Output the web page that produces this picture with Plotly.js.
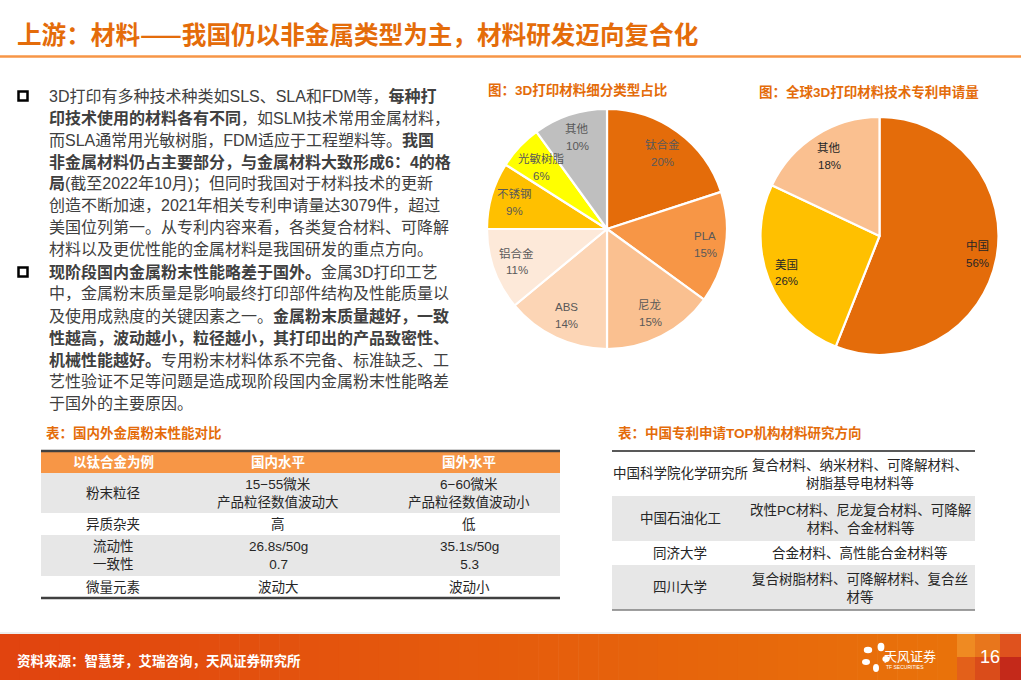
<!DOCTYPE html>
<html><head><meta charset="utf-8">
<script src="https://cdn.plot.ly/plotly-3.0.1.min.js"></script>
<style>html,body{margin:0;padding:0;background:#fff;overflow:hidden}#chart{width:1021px;height:680px}</style>
</head><body><div id="chart"></div>
<script>
const W = 1021, H = 680;
const FONT = '"Liberation Sans", Arial, "Noto Sans CJK SC", sans-serif';
const CJK = '"Noto Sans CJK SC", "Liberation Sans", sans-serif';
const ORANGE = '#E46C0A';

// ---------- data ----------
const slideTitle = '上游：材料——我国仍以非金属类型为主，材料研发迈向复合化';
const bullet1Lines = [
  '3D打印有多种技术种类如SLS、SLA和FDM等，<b>每种打</b>',
  '<b>印技术使用的材料各有不同</b>，如SLM技术常用金属材料，',
  '而SLA通常用光敏树脂，FDM适应于工程塑料等。<b>我国</b>',
  '<b>非金属材料仍占主要部分，与金属材料大致形成6：4的格</b>',
  '<b>局</b>(截至2022年10月)；但同时我国对于材料技术的更新',
  '创造不断加速，2021年相关专利申请量达3079件，超过',
  '美国位列第一。从专利内容来看，各类复合材料、可降解',
  '材料以及更优性能的金属材料是我国研发的重点方向。'
];
const bullet2Lines = [
  '<b>现阶段国内金属粉末性能略差于国外。</b>金属3D打印工艺',
  '中，金属粉末质量是影响最终打印部件结构及性能质量以',
  '及使用成熟度的关键因素之一。<b>金属粉末质量越好，一致</b>',
  '<b>性越高，波动越小，粒径越小，其打印出的产品致密性、</b>',
  '<b>机械性能越好。</b>专用粉末材料体系不完备、标准缺乏、工',
  '艺性验证不足等问题是造成现阶段国内金属粉末性能略差',
  '于国外的主要原因。'
];

const pie1Title = '图：3D打印材料细分类型占比';
const pie1Labels = ['钛合金', 'PLA', '尼龙', 'ABS', '铝合金', '不锈钢', '光敏树脂', '其他'];
const pie1Values = [20, 15, 15, 14, 11, 9, 6, 10];
const pie1Colors = ['#E46C0A', '#F79646', '#FAC090', '#FCD5B5', '#FDE9D9', '#FFC000', '#FFFF00', '#BFBFBF'];

const pie2Title = '图：全球3D打印材料技术专利申请量';
const pie2Labels = ['中国', '美国', '其他'];
const pie2Values = [56, 26, 18];
const pie2Colors = ['#E46C0A', '#FFC000', '#FAC090'];

const table1Title = '表：国内外金属粉末性能对比';
const table1Header = ['以钛合金为例', '国内水平', '国外水平'];
const table1Items = ['粉末粒径', '异质杂夹', '流动性<br>一致性', '微量元素'];
const table1Domestic = ['15−55微米<br>产品粒径数值波动大', '高', '26.8s/50g<br>0.7', '波动大'];
const table1Foreign = ['6−60微米<br>产品粒径数值波动小', '低', '35.1s/50g<br>5.3', '波动小'];

const table2Title = '表：中国专利申请TOP机构材料研究方向';
const table2Orgs = ['中国科学院化学研究所', '中国石油化工', '同济大学', '四川大学'];
const table2Dirs = [
  '复合材料、纳米材料、可降解材料、<br>树脂基导电材料等',
  '改性PC材料、尼龙复合材料、可降解<br>材料、合金材料等',
  '合金材料、高性能合金材料等',
  '复合树脂材料、可降解材料、复合丝<br>材等'
];

const footerSource = '资料来源：智慧芽，艾瑞咨询，天风证券研究所';
const logoText = '天风证券';
const logoSub = 'TF SECURITIES';
const pageNumber = '16';

// ---------- helpers ----------
const px = x => x / W, py = y => 1 - y / H;
function ann(text, x, y, o) {
  o = o || {};
  return {
    text: text, x: px(x), y: py(y), xref: 'paper', yref: 'paper', showarrow: false,
    xanchor: o.xanchor || 'center', yanchor: 'middle', align: o.align || 'center',
    font: {family: o.family || FONT, size: o.size || 13.5, color: o.color || '#262626'}
  };
}
function rect(x0, y0, x1, y1, fill, line) {
  return {type: 'rect', xref: 'paper', yref: 'paper', x0: px(x0), x1: px(x1), y0: py(y1), y1: py(y0),
    fillcolor: fill || 'rgba(0,0,0,0)', line: line || {width: 0}, layer: 'below'};
}
function hline(x0, x1, y, color, w) {
  return {type: 'line', xref: 'paper', yref: 'paper', x0: px(x0), x1: px(x1), y0: py(y), y1: py(y),
    line: {color: color, width: w}, layer: 'above'};
}
function hexToRgb(h) { return [1, 3, 5].map(i => parseInt(h.substr(i, 2), 16)); }
function mix(a, b, t) {
  const A = hexToRgb(a), B = hexToRgb(b);
  return 'rgb(' + A.map((v, i) => Math.round(v + (B[i] - v) * t)).join(',') + ')';
}

const shapes = [], annotations = [];

// ---------- title ----------
annotations.push(ann('<b>' + slideTitle + '</b>', 15, 33, {xanchor: 'left', size: 24.6, color: ORANGE, family: CJK}));
shapes.push(hline(0, W, 56.5, '#F79646', 2.5));

// ---------- bullets ----------
const bulletX = 47;
[[bullet1Lines, 96], [bullet2Lines, 272]].forEach(([lines, y0]) => {
  shapes.push({type: 'rect', xref: 'paper', yref: 'paper', x0: px(18.5), x1: px(27.5), y0: py(y0 + 4.5), y1: py(y0 - 4.5),
    line: {color: '#000', width: 2.5}, fillcolor: 'rgba(0,0,0,0)'});
  lines.forEach((t, i) => annotations.push(ann(t, bulletX, y0 + i * 21.9, {xanchor: 'left', size: 16, color: '#404040'})));
});

// ---------- pies ----------
const pie1 = {cx: 607, cy: 229, r: 120};
const pie2 = {cx: 879.5, cy: 236, r: 119};
function domainOf(p) { return {x: [px(p.cx - p.r), px(p.cx + p.r)], y: [py(p.cy + p.r), py(p.cy - p.r)]}; }
function pieTrace(labels, values, colors, p) {
  return {type: 'pie', labels: labels, values: values, sort: false, direction: 'clockwise', rotation: 0,
    marker: {colors: colors, line: {color: '#FFFFFF', width: 2.2}}, textinfo: 'none', hoverinfo: 'skip',
    domain: domainOf(p), showlegend: false, automargin: false};
}
function pieLabels(labels, values, p, frac, color) {
  const total = values.reduce((a, b) => a + b, 0);
  let cum = 0;
  labels.forEach((lab, i) => {
    const mid = (cum + values[i] / 2) / total * 2 * Math.PI;
    cum += values[i];
    const f = Array.isArray(frac) ? frac[i] : frac;
    const x = p.cx + f * p.r * Math.sin(mid), y = p.cy - f * p.r * Math.cos(mid);
    annotations.push(ann(lab, x, y - 8.5, {size: 11.5, color: color}));
    annotations.push(ann(Math.round(values[i] / total * 100) + '%', x, y + 8.5, {size: 11.5, color: color}));
  });
}
annotations.push(ann('<b>' + pie1Title + '</b>', 486, 90, {xanchor: 'left', size: 13.5, color: ORANGE}));
annotations.push(ann('<b>' + pie2Title + '</b>', 757, 92, {xanchor: 'left', size: 13.5, color: ORANGE}));
pieLabels(pie1Labels, pie1Values, pie1, [0.78, 0.83, 0.79, 0.8, 0.8, 0.8, 0.75, 0.8], '#595959');
pieLabels(pie2Labels, pie2Values, pie2, [0.84, 0.84, 0.79], '#262626');

// ---------- table 1 ----------
const t1 = {x0: 41, x1: 560, top: 451, rows: [473, 513, 535, 576, 598], cols: [113, 278, 469]};
annotations.push(ann('<b>' + table1Title + '</b>', 44, 433, {xanchor: 'left', size: 13.5, color: ORANGE}));
shapes.push(rect(t1.x0, t1.top, t1.x1, t1.rows[0], '#F79646'));
for (let i = 0; i < table1Items.length; i++) {
  if (i % 2 === 0) shapes.push(rect(t1.x0, t1.rows[i], t1.x1, t1.rows[i + 1], '#E7E7E7'));
  const yc = (t1.rows[i] + t1.rows[i + 1]) / 2;
  annotations.push(ann(table1Items[i], t1.cols[0], yc));
  annotations.push(ann(table1Domestic[i], t1.cols[1], yc));
  annotations.push(ann(table1Foreign[i], t1.cols[2], yc));
}
table1Header.forEach((h, j) => annotations.push(ann('<b>' + h + '</b>', t1.cols[j], (t1.top + t1.rows[0]) / 2, {color: '#FFFFFF'})));
shapes.push(hline(t1.x0, t1.x1, t1.top, '#404040', 2.5));
shapes.push(hline(t1.x0, t1.x1, t1.rows[4], '#404040', 2.5));

// ---------- table 2 ----------
const t2 = {x0: 612, x1: 975, rows: [451, 496, 541, 565, 610], cols: [680, 860]};
annotations.push(ann('<b>' + table2Title + '</b>', 616, 433, {xanchor: 'left', size: 13.5, color: ORANGE}));
for (let i = 0; i < table2Orgs.length; i++) {
  if (i % 2 === 1) shapes.push(rect(t2.x0, t2.rows[i], t2.x1, t2.rows[i + 1], '#E7E7E7'));
  const yc = (t2.rows[i] + t2.rows[i + 1]) / 2;
  annotations.push(ann(table2Orgs[i], t2.cols[0], yc));
  annotations.push(ann(table2Dirs[i], t2.cols[1], yc));
}
shapes.push(hline(t2.x0, t2.x1, t2.rows[0], '#595959', 2));
shapes.push(hline(t2.x0, t2.x1, t2.rows[4], '#7F7F7F', 1.5));

// ---------- footer ----------
const fTop = 634;
shapes.push(hline(0, W, fTop - 1, '#E8E8E8', 1.5));
const strips = 48, stripEnd = 957;
for (let k = 0; k < strips; k++) {
  const xa = stripEnd * k / strips, xb = stripEnd * (k + 1) / strips + 0.6;
  shapes.push(rect(xa, fTop, xb, H, mix('#E1440F', '#E9720A', k / (strips - 1))));
}
[[957, 975, '#EF8A22', '#E3601A'], [975, 1000, '#E8761C', '#DA4C1A'], [1000, 1021, '#DF521E', '#C4291A']].forEach(c => {
  shapes.push(rect(c[0], fTop, c[1], 657, c[2]));
  shapes.push(rect(c[0], 657, c[1], H, c[3]));
});
// logo petals
[[868, 650, 4.2, 3.2], [881, 647, 3.4, 4.2], [866, 662, 4, 3], [876, 668, 3, 4], [886, 659, 3.6, 3]].forEach(e => {
  shapes.push({type: 'circle', xref: 'paper', yref: 'paper', x0: px(e[0] - e[2]), x1: px(e[0] + e[2]),
    y0: py(e[1] + e[3]), y1: py(e[1] - e[3]), fillcolor: '#FFFFFF', line: {width: 0}, layer: 'above'});
});
annotations.push(ann('<b>' + footerSource + '</b>', 15, 661, {xanchor: 'left', size: 13.5, color: '#FFFFFF'}));
annotations.push(ann(logoText, 910, 656, {size: 13, color: '#FFFFFF'}));
annotations.push(ann(logoSub, 905, 667, {size: 5, color: '#FFFFFF'}));
annotations.push(ann(pageNumber, 990, 657, {size: 18, color: '#FFFFFF'}));

const data = [pieTrace(pie1Labels, pie1Values, pie1Colors, pie1), pieTrace(pie2Labels, pie2Values, pie2Colors, pie2)];
const layout = {
  width: W, height: H, margin: {l: 0, r: 0, t: 0, b: 0, pad: 0},
  paper_bgcolor: '#FFFFFF', plot_bgcolor: '#FFFFFF', showlegend: false,
  font: {family: FONT}, shapes: shapes, annotations: annotations
};
Plotly.newPlot('chart', data, layout, {displayModeBar: false, staticPlot: true});
</script></body></html>
